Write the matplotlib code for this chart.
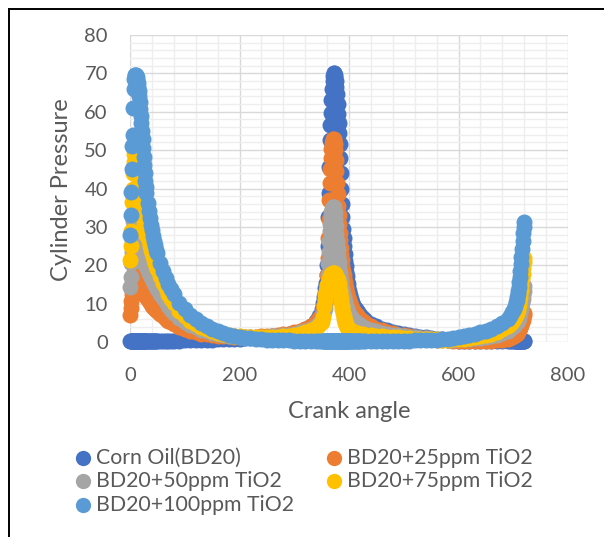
import matplotlib
matplotlib.use("Agg")
import matplotlib.pyplot as plt
from matplotlib.lines import Line2D
from matplotlib.ticker import MultipleLocator

plt.rcParams['font.family'] = ['Lato', 'DejaVu Sans']

# ---- data -------------------------------------------------------------
crank_angle = (list(range(0, 31)) + list(range(32, 51, 2)) + list(range(55, 81, 5))
               + list(range(90, 341, 10)) + [345, 350, 353] + list(range(355, 401))
               + list(range(402, 421, 2)) + [425, 430] + list(range(440, 691, 10))
               + [694, 698, 701, 703] + list(range(705, 721)))

corn_oil = ([0.35] * 31 + [0.35] * 10 + [0.35] * 6
            + [0.35, 0.4, 0.45, 0.5, 0.55, 0.6, 0.65, 0.7, 0.75, 0.8, 0.85, 0.9, 0.95, 1.0,
               1.1, 1.2, 1.3, 1.45, 1.6, 1.8, 2.0, 2.3, 2.7, 3.3, 4.2, 5.5]
            + [6.7, 8.5, 10.2]
            + [11.8, 12.8, 14, 15.5, 17.5, 20, 25, 32.6, 38.8, 45.6, 52.6, 56.5, 59.7, 63, 66,
               68, 69.3, 70, 70, 69.6, 69, 68, 66.5, 64.5, 62, 59.5, 57, 54.5, 51.5, 48, 44, 40,
               36, 32.5, 29.5, 27, 25, 23, 21.2, 19.7, 18.3, 17.1, 16, 15, 14.2, 13.4]
            + [12.2, 11.2, 10.4, 9.7, 9.1, 8.6, 8.1, 7.7, 7.3, 7.0]
            + [6.3, 5.7]
            + [4.8, 4.1, 3.5, 3.0, 2.6, 2.3, 2.0, 1.75, 1.55, 1.35, 1.2, 1.05, 0.9, 0.75, 0.6,
               0.45] + [0.35] * 10
            + [0.35] * 4 + [0.35] * 16)

tio2_25 = ([7, 8.9, 10.8, 12.5, 14, 15.3, 16.4, 17.3, 18, 18.5, 18.8, 18.8, 18.6, 18.3, 17.9,
            17.5, 17.0, 16.5, 16.0, 15.5, 15.0, 14.6, 14.2, 13.8, 13.4, 13.1, 12.8, 12.5, 12.2,
            11.9, 11.6]
           + [11.1, 10.7, 10.3, 9.9, 9.5, 9.2, 8.9, 8.6, 8.3, 8.0]
           + [7.3, 6.7, 6.1, 5.6, 5.1, 4.7]
           + [4.0, 3.4, 2.9, 2.5, 2.2, 2.0, 1.8, 1.65, 1.55, 1.45, 1.4, 1.35, 1.35, 1.35, 1.4,
              1.45, 1.55, 1.65, 1.8, 2.0, 2.2, 2.5, 2.9, 3.4, 4.1, 5.1]
           + [6.2, 7.6, 8.8]
           + [9.8, 10.5, 11.3, 12.7, 14.8, 17.5, 22, 27, 32, 37, 41.5, 45, 48, 50.3, 51.8,
              52.6, 53, 53, 52.7, 51.5, 50, 47.5, 44.5, 41.5, 38.5, 35.5, 33, 30.7, 28.5, 26.5,
              24.6, 22.9, 21.3, 19.9, 18.6, 17.5, 16.5, 15.6, 14.8, 14.1, 13.4, 12.8, 12.3,
              11.8, 11.3, 10.9]
           + [10.1, 9.4, 8.8, 8.3, 7.8, 7.4, 7.0, 6.6, 6.3, 6.0]
           + [5.4, 4.9]
           + [4.1, 3.5, 3.0, 2.6, 2.25, 1.95, 1.7, 1.5, 1.3, 1.1, 0.95, 0.8, 0.65, 0.5, 0.4,
              0.3, 0.25, 0.2, 0.2, 0.2, 0.2, 0.25, 0.3, 0.4, 0.55, 0.8]
           + [1.0, 1.3, 1.6, 1.85]
           + [2.05, 2.2, 2.35, 2.55, 2.75, 3.0, 3.25, 3.55, 3.9, 4.3, 4.75, 5.25, 5.8, 6.4,
              7.0, 7.5])

tio2_50 = ([14.3, 17, 20.5, 23.5, 26.5, 29, 31.5, 33.3, 34.5, 35.2, 35.3, 35.1, 34.6, 33.8,
            32.8, 31.6, 30.3, 29.0, 27.8, 26.7, 25.7, 24.8, 24.0, 23.3, 22.6, 22.0, 21.4, 20.9,
            20.4, 19.9, 19.5]
           + [18.8, 18.1, 17.5, 16.9, 16.3, 15.8, 15.3, 14.8, 14.3, 13.8]
           + [12.6, 11.4, 10.3, 9.3, 8.4, 7.6]
           + [6.3, 5.3, 4.5, 3.8, 3.25, 2.8, 2.4, 2.1, 1.85, 1.65, 1.5, 1.4, 1.3, 1.25, 1.25,
              1.3, 1.35, 1.45, 1.6, 1.75, 1.95, 2.2, 2.5, 2.9, 3.4, 4.1]
           + [5.0, 6.2, 7.3]
           + [8.2, 8.9, 9.8, 11, 12.6, 14.8, 17.5, 20.5, 23.5, 26.3, 28.8, 30.8, 32.5, 33.8,
              34.7, 35.2, 35.3, 35.1, 34.5, 33.5, 32, 30.2, 28.2, 26.2, 24.3, 22.5, 20.9, 19.4,
              18.1, 16.9, 15.8, 14.8, 13.9, 13.1, 12.4, 11.7, 11.1, 10.5, 10, 9.5, 9.1, 8.7,
              8.3, 8.0, 7.7, 7.4]
           + [6.9, 6.5, 6.1, 5.8, 5.5, 5.2, 5.0, 4.8, 4.6, 4.4]
           + [4.0, 3.7]
           + [3.2, 2.8, 2.45, 2.15, 1.9, 1.7, 1.5, 1.35, 1.2, 1.05, 0.95, 0.85, 0.75, 0.7,
              0.65, 0.65, 0.7, 0.75, 0.85, 0.95, 1.1, 1.3, 1.55, 1.85, 2.3, 2.9]
           + [3.3, 3.8, 4.2, 4.6]
           + [4.9, 5.1, 5.35, 5.6, 5.9, 6.3, 6.7, 7.2, 7.8, 8.5, 9.3, 10.2, 11.2, 12.3, 13.4,
              14.5])

tio2_75 = ([21.4, 25, 29, 33, 36.5, 40, 44, 47, 49, 50.2, 50.5, 50.2, 49.6, 48.6, 47.3, 45.8,
            44.1, 42.3, 40.6, 39.0, 37.5, 36.1, 34.8, 33.6, 32.5, 31.5, 30.6, 29.8, 29.0, 28.3,
            27.8]
           + [27.3, 26.2, 25.1, 24.1, 23.2, 22.3, 21.4, 20.6, 19.8, 19.0]
           + [17.2, 15.5, 14.0, 12.6, 11.3, 10.1]
           + [8.2, 6.8, 5.6, 4.7, 3.9, 3.3, 2.8, 2.4, 2.05, 1.8, 1.6, 1.45, 1.35, 1.25, 1.2,
              1.2, 1.25, 1.3, 1.4, 1.5, 1.65, 1.85, 2.1, 2.5, 3.0, 3.6]
           + [4.3, 5.3, 6.4]
           + [9.5, 11, 12.3, 13.3, 14, 14.6, 15.1, 15.5, 15.9, 16.3, 16.7, 17, 17.3, 17.6,
              17.8, 17.9, 18, 18, 17.9, 17.8, 17.6, 17.3, 17, 16.6, 16.1, 15.6, 15, 14.2, 13.3,
              12.4, 11.5, 10.5, 9.5, 8.5, 7.6, 6.8, 6.1, 5.5, 5.0, 4.6, 4.3, 4.0, 3.8, 3.6,
              3.4, 3.3]
           + [3.1, 2.9, 2.75, 2.6, 2.5, 2.4, 2.3, 2.2, 2.15, 2.1]
           + [2.0, 1.9]
           + [1.75, 1.6, 1.5, 1.4, 1.3, 1.2, 1.1, 1.0, 0.9, 0.85, 0.8, 0.75, 0.7, 0.65, 0.65,
              0.7, 0.8, 0.9, 1.05, 1.25, 1.5, 1.8, 2.2, 2.7, 3.3, 4.1]
           + [4.6, 5.3, 5.9, 6.5]
           + [7.1, 7.5, 7.9, 8.4, 9.0, 9.7, 10.5, 11.4, 12.4, 13.6, 14.9, 16.3, 17.8, 19.4,
              20.8, 22])

tio2_100 = ([28, 33, 39, 45, 51, 54, 61, 66, 68.5, 69.5, 69.7, 69.5, 69, 68.3, 67.5, 66.5,
             65.3, 64, 62.5, 60.8, 59, 57, 55, 52.8, 50.5, 48.2, 46, 44, 42, 40.3, 38.7]
            + [36.3, 34.2, 32.3, 30.6, 29.1, 27.7, 26.4, 25.2, 24.1, 23.1]
            + [20.5, 18.5, 16.7, 15.1, 13.7, 12.4]
            + [10.2, 8.5, 7.1, 5.9, 4.9, 4.1, 3.4, 2.8, 2.3, 1.9, 1.6, 1.35, 1.15, 1.0, 0.85,
               0.75, 0.65, 0.55, 0.5, 0.45, 0.4, 0.35, 0.35, 0.35, 0.35, 0.35]
            + [0.35] * 3 + [0.35] * 46 + [0.35] * 10 + [0.35] * 2
            + [0.35, 0.35, 0.35, 0.35, 0.35, 0.35, 0.35, 0.35, 0.4, 0.45, 0.5, 0.55, 0.65,
               0.75, 0.9, 1.05, 1.25, 1.5, 1.8, 2.1, 2.5, 2.95, 3.5, 4.2, 5.0, 6.1]
            + [6.8, 7.7, 8.6, 9.4]
            + [10.3, 10.9, 11.6, 12.4, 13.3, 14.4, 15.6, 17, 18.6, 20.3, 22.2, 24.2, 26.3,
               28.4, 30, 31.3])

series_names = ["Corn Oil(BD20)", "BD20+25ppm TiO2", "BD20+50ppm TiO2",
                "BD20+75ppm TiO2", "BD20+100ppm TiO2"]
series_values = [corn_oil, tio2_25, tio2_50, tio2_75, tio2_100]
series_colors = ["#4472C4", "#ED7D31", "#A5A5A5", "#FFC000", "#5B9BD5"]

x_ticks = [0, 200, 400, 600, 800]
y_ticks = [0, 10, 20, 30, 40, 50, 60, 70, 80]

for v in series_values:
    assert len(v) == len(crank_angle), len(v)

# ---- figure -----------------------------------------------------------
W, H = 604, 537
fig = plt.figure(figsize=(W / 100, H / 100), dpi=100)
fig.patch.set_facecolor("white")

def fx(px):
    return px / W

def fy(py):
    return 1 - py / H

ax = fig.add_axes([fx(130), fy(342), fx(568) - fx(130), fy(35) - fy(342)])
ax.set_xlim(0, 800)
ax.set_ylim(0, 80)
ax.set_xticks(x_ticks)
ax.set_yticks(y_ticks)
ax.xaxis.set_minor_locator(MultipleLocator(40))
ax.yaxis.set_minor_locator(MultipleLocator(2))
ax.grid(which="major", color="#d9d9d9", linewidth=1.0)
ax.grid(which="minor", color="#eeeeee", linewidth=1.0)
ax.set_axisbelow(True)
for s in ax.spines.values():
    s.set_visible(False)
ax.tick_params(which="both", length=0)
ax.tick_params(axis="x", pad=18, labelsize=14.5, labelcolor="#595959")
ax.tick_params(axis="y", pad=16, labelsize=14.5, labelcolor="#595959")

for name, vals, col in zip(series_names, series_values, series_colors):
    ax.plot(crank_angle, vals, linestyle="none", marker="o", markersize=11.5,
            markeredgewidth=0, color=col, label=name, clip_on=False)

fig.text(fx(349), fy(412), "Crank angle", ha="center", va="center",
         fontsize=17, color="#595959")
fig.text(fx(62), fy(190), "Cylinder Pressure", ha="center", va="center",
         rotation=90, fontsize=17, color="#595959")

# legend (row-major as in the source)
leg_pos = [(83, 458), (334, 458), (83, 481), (334, 481), (83, 505)]
for (lx, ly), name, col in zip(leg_pos, series_names, series_colors):
    fig.add_artist(Line2D([fx(lx)], [fy(ly)], marker="o", markersize=11,
                          markeredgewidth=0, color=col, linestyle="none"))
    fig.text(fx(lx + 13), fy(ly), name, ha="left", va="center", fontsize=15.3,
             color="#595959")

# outer chart border (partially cropped in the source)
fig.add_artist(Line2D([fx(9), 1.0], [fy(9), fy(9)], color="black", linewidth=1.4))
fig.add_artist(Line2D([fx(9), fx(9)], [fy(9), 0.0], color="black", linewidth=1.4))

fig.savefig("out.png", dpi=100)
